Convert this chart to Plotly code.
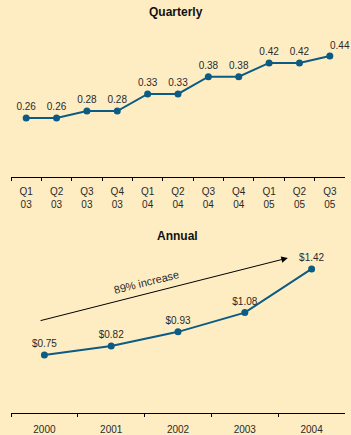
import plotly.graph_objects as go

q_labels = ["Q1<br>03", "Q2<br>03", "Q3<br>03", "Q4<br>03", "Q1<br>04", "Q2<br>04",
            "Q3<br>04", "Q4<br>04", "Q1<br>05", "Q2<br>05", "Q3<br>05"]
q_values = [0.26, 0.26, 0.28, 0.28, 0.33, 0.33, 0.38, 0.38, 0.42, 0.42, 0.44]
years = ["2000", "2001", "2002", "2003", "2004"]
a_values = [0.75, 0.82, 0.93, 1.08, 1.42]

W, H = 351, 435
BG = "#FEEDC3"
LINE = "#0B5B84"
FONT = "Liberation Sans, Arial, sans-serif"
TXT = "#2a2a2a"

def py(px):
    return 1 - px / H

fig = go.Figure()

q_text = [f"{v:.2f}" for v in q_values]
fig.add_trace(go.Scatter(
    x=q_labels, y=q_values, mode="lines+markers+text",
    text=q_text[:-1] + [""], textposition="top center",
    textfont=dict(size=10, color=TXT, family=FONT),
    line=dict(color=LINE, width=2), marker=dict(color=LINE, size=7),
    xaxis="x", yaxis="y", cliponaxis=False, showlegend=False))

fig.add_trace(go.Scatter(
    x=years, y=a_values, mode="lines+markers+text",
    text=[f"${v:.2f}" for v in a_values], textposition="top center",
    textfont=dict(size=10, color=TXT, family=FONT),
    line=dict(color=LINE, width=2), marker=dict(color=LINE, size=7),
    xaxis="x2", yaxis="y2", cliponaxis=False, showlegend=False))

xcommon = dict(type="category", tickson="boundaries", ticks="outside", ticklen=3,
               tickcolor="black", tickwidth=1, showline=True, linecolor="black",
               linewidth=1, showgrid=False, zeroline=False,
               tickfont=dict(size=10, color=TXT, family=FONT),
               domain=[11 / W, 345 / W])

fig.update_layout(
    width=W, height=H, margin=dict(l=0, r=0, t=0, b=0),
    paper_bgcolor=BG, plot_bgcolor=BG,
    xaxis=dict(**xcommon, anchor="y", range=[-0.5, len(q_labels) - 0.5],
               ticklabelstandoff=5),
    yaxis=dict(domain=[py(177), py(30)], range=[0.0885, 0.5158], visible=False,
               showgrid=False, zeroline=False),
    xaxis2=dict(**xcommon, anchor="y2", range=[-0.5, len(years) - 0.5],
                ticklabelstandoff=7),
    yaxis2=dict(domain=[py(413), py(250)], range=[0.298, 1.5675], visible=False,
                showgrid=False, zeroline=False),
    annotations=[
        dict(text="<b>Quarterly</b>", x=176 / W, y=py(12), xref="paper", yref="paper",
             xanchor="center", yanchor="middle", showarrow=False,
             font=dict(size=12, color="#111", family=FONT)),
        dict(text="<b>Annual</b>", x=177 / W, y=py(236), xref="paper", yref="paper",
             xanchor="center", yanchor="middle", showarrow=False,
             font=dict(size=12, color="#111", family=FONT)),
        dict(text=q_text[-1], x=len(q_labels) - 1, y=q_values[-1], xref="x", yref="y",
             xanchor="center", yanchor="bottom", xshift=10, yshift=3, showarrow=False,
             font=dict(size=10, color=TXT, family=FONT)),
        dict(x=3.644, y=1.505, ax=-0.08, ay=1.0145, xref="x2", yref="y2",
             axref="x2", ayref="y2", showarrow=True, arrowhead=2, arrowsize=1.3,
             arrowwidth=1, arrowcolor="black", text=""),
        dict(text="89% increase", x=1.527, y=1.318, xref="x2", yref="y2",
             showarrow=False, textangle=-14,
             font=dict(size=11, color=TXT, family=FONT)),
    ],
)

fig.write_html("out.html")
